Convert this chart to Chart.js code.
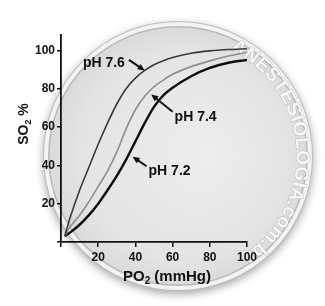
<!DOCTYPE html>
<html>
<head>
<meta charset="utf-8">
<script src="https://cdn.jsdelivr.net/npm/chart.js@4.4.1/dist/chart.umd.min.js"></script>
<style>
  html, body { margin: 0; padding: 0; background: #fff; }
  #wrap { width: 325px; height: 306px; }
</style>
</head>
<body>
<div id="wrap"><canvas id="c" width="325" height="306"></canvas></div>
<script>
// PO2 (mmHg)
const po2 = [2, 5, 10, 15, 20, 25, 30, 35, 40, 45, 50, 55, 60, 70, 80, 90, 100];
// SO2 % per pH curve
const ph76 = [3, 13, 27, 39, 51, 62, 72, 80, 85.5, 89.5, 92.5, 94.6, 96.3, 98.5, 99.7, 100.4, 100.8];
const ph74 = [3, 8, 14, 21, 29, 37, 47, 59, 69, 76, 81, 84.5, 87.5, 91.5, 94.5, 97, 99];
const ph72 = [3, 5, 9, 14, 20, 27, 34.5, 43, 52.5, 62, 70.5, 76.5, 80.5, 86.5, 90.8, 93.5, 95];

const xTicks = [0, 20, 40, 60, 80, 100];
const yTicks = [0, 20, 40, 60, 80, 100];

// curve callouts: text, arrow tail and tip in data units
const callouts = [
    { text: 'pH 7.6', tail: [36.5, 95], tip: [45, 89.5], side: 'left' },
    { text: 'pH 7.4', tail: [60, 68], tip: [48.5, 77], side: 'right' },
    { text: 'pH 7.2', tail: [46, 39.5], tip: [38.5, 44.5], side: 'right' }
];

const FONT = '"Liberation Sans", Arial, sans-serif';

function pts(ys) {
    return po2.map((x, i) => ({ x, y: ys[i] }));
}

const backdrop = {
    id: 'backdrop',
    beforeDraw(chart) {
        const ctx = chart.ctx;
        const cx = 178, cy = 156, r = 135;
        ctx.save();
        ctx.fillStyle = '#fff';
        ctx.fillRect(0, 0, chart.width, chart.height);

        ctx.shadowColor = 'rgba(0,0,0,0.35)';
        ctx.shadowBlur = 9;
        ctx.shadowOffsetY = 3;
        ctx.beginPath(); ctx.arc(cx, cy, r, 0, Math.PI * 2);
        ctx.fillStyle = '#bdbdbd'; ctx.fill();
        ctx.shadowColor = 'transparent';

        ctx.beginPath(); ctx.arc(cx, cy, r - 1, 0, Math.PI * 2);
        ctx.fillStyle = '#f3f3f3'; ctx.fill();
        ctx.beginPath(); ctx.arc(cx, cy, r - 5, 0, Math.PI * 2);
        ctx.fillStyle = '#b9b9b9'; ctx.fill();

        const g = ctx.createRadialGradient(cx + 30, cy, 10, cx, cy, r - 6);
        g.addColorStop(0, '#ececec');
        g.addColorStop(0.8, '#e4e4e4');
        g.addColorStop(1, '#dadada');
        ctx.beginPath(); ctx.arc(cx, cy, r - 6.5, 0, Math.PI * 2);
        ctx.fillStyle = g; ctx.fill();

        // watermark along the right rim
        const wm = 'ANESTESIOLOGIA.com.br';
        const rr = 124, a0 = -64 * Math.PI / 180, a1 = 56 * Math.PI / 180;
        ctx.font = 'bold 19px ' + FONT;
        const widths = [...wm].map(ch => ctx.measureText(ch).width);
        const total = widths.reduce((s, w) => s + w, 0);
        const k = (a1 - a0) * rr / total;
        let a = a0;
        ctx.textAlign = 'center';
        ctx.textBaseline = 'middle';
        [...wm].forEach((ch, i) => {
            const da = widths[i] * k / rr;
            const am = a + da / 2;
            ctx.save();
            ctx.translate(cx + rr * Math.cos(am), cy + rr * Math.sin(am));
            ctx.rotate(am + Math.PI / 2);
            ctx.lineWidth = 1;
            ctx.strokeStyle = 'rgba(170,170,170,0.7)';
            ctx.strokeText(ch, 0, 0);
            ctx.fillStyle = '#f8f8f8';
            ctx.fillText(ch, 0, 0);
            ctx.restore();
            a += da;
        });
        ctx.restore();
    }
};

function arrow(ctx, x1, y1, x2, y2) {
    const ang = Math.atan2(y2 - y1, x2 - x1);
    const hl = 7, hw = 3.2;
    ctx.beginPath();
    ctx.moveTo(x1, y1);
    ctx.lineTo(x2 - Math.cos(ang) * hl * 0.8, y2 - Math.sin(ang) * hl * 0.8);
    ctx.stroke();
    ctx.beginPath();
    ctx.moveTo(x2, y2);
    ctx.lineTo(x2 - Math.cos(ang) * hl + Math.sin(ang) * hw, y2 - Math.sin(ang) * hl - Math.cos(ang) * hw);
    ctx.lineTo(x2 - Math.cos(ang) * hl - Math.sin(ang) * hw, y2 - Math.sin(ang) * hl + Math.cos(ang) * hw);
    ctx.closePath();
    ctx.fill();
}

const labels = {
    id: 'labels',
    afterDraw(chart) {
        const ctx = chart.ctx;
        const xs = chart.scales.x, ys = chart.scales.y;
        ctx.save();
        ctx.fillStyle = '#111';
        ctx.strokeStyle = '#111';
        ctx.lineWidth = 2;
        ctx.font = 'bold 14px ' + FONT;
        ctx.textBaseline = 'alphabetic';
        callouts.forEach(c => {
            const tx = xs.getPixelForValue(c.tail[0]), ty = ys.getPixelForValue(c.tail[1]);
            const px = xs.getPixelForValue(c.tip[0]), py = ys.getPixelForValue(c.tip[1]);
            arrow(ctx, tx, ty, px, py);
            if (c.side === 'left') {
                ctx.textAlign = 'right';
                ctx.fillText(c.text, tx - 4, ty + 7);
            } else {
                ctx.textAlign = 'left';
                ctx.fillText(c.text, tx + 2, ty + 9);
            }
        });

        // axis titles with subscript 2
        function sub(parts, x, y) {
            let w = 0;
            parts.forEach(p => { ctx.font = p.f; w += ctx.measureText(p.t).width; });
            let cx = x - w / 2;
            ctx.textAlign = 'left';
            parts.forEach(p => {
                ctx.font = p.f;
                ctx.fillText(p.t, cx, y + (p.dy || 0));
                cx += ctx.measureText(p.t).width;
            });
        }
        const big = 'bold 15px ' + FONT, small = 'bold 10px ' + FONT;
        sub([{ t: 'PO', f: big }, { t: '2', f: small, dy: 3 }, { t: ' (mmHg)', f: big }], 167, 281);

        ctx.save();
        ctx.translate(28, 124);
        ctx.rotate(-Math.PI / 2);
        const yb = 'bold 14px ' + FONT, ys2 = 'bold 9px ' + FONT;
        sub([{ t: 'SO', f: yb }, { t: '2', f: ys2, dy: 3 }, { t: ' %', f: yb }], 0, 0);
        ctx.restore();
        ctx.restore();
    }
};

new Chart(document.getElementById('c'), {
    type: 'line',
    data: {
        datasets: [
            { label: 'pH 7.6', data: pts(ph76), borderColor: '#3a3a3a', borderWidth: 1.6 },
            { label: 'pH 7.4', data: pts(ph74), borderColor: '#8e8e8e', borderWidth: 1.6 },
            { label: 'pH 7.2', data: pts(ph72), borderColor: '#0d0d0d', borderWidth: 2.4 }
        ]
    },
    options: {
        responsive: false,
        animation: false,
        layout: { padding: { left: 0, top: 35, right: 78, bottom: 0 } },
        elements: {
            point: { radius: 0 },
            line: { cubicInterpolationMode: 'monotone', fill: false }
        },
        plugins: { legend: { display: false }, tooltip: { enabled: false } },
        scales: {
            x: {
                type: 'linear',
                min: 0, max: 100,
                afterFit: s => { s.height = 64; },
                afterBuildTicks: s => { s.ticks = xTicks.map(v => ({ value: v })); },
                ticks: {
                    color: '#111', padding: 3,
                    font: { family: FONT, size: 12, weight: 'bold' },
                    callback: v => (v === 0 ? '' : v)
                },
                grid: { drawOnChartArea: false, tickLength: 5, color: '#111', lineWidth: 1.5 },
                border: { color: '#111', width: 1.8 }
            },
            y: {
                type: 'linear',
                min: 0, max: 108,
                afterFit: s => { s.width = 61; },
                afterBuildTicks: s => { s.ticks = yTicks.map(v => ({ value: v })); },
                ticks: {
                    color: '#111', padding: 2,
                    font: { family: FONT, size: 12, weight: 'bold' },
                    callback: v => (v === 0 ? '' : v)
                },
                grid: { drawOnChartArea: false, tickLength: 4, color: '#111', lineWidth: 1.5 },
                border: { color: '#111', width: 1.8 }
            }
        }
    },
    plugins: [backdrop, labels]
});
</script>
</body>
</html>
